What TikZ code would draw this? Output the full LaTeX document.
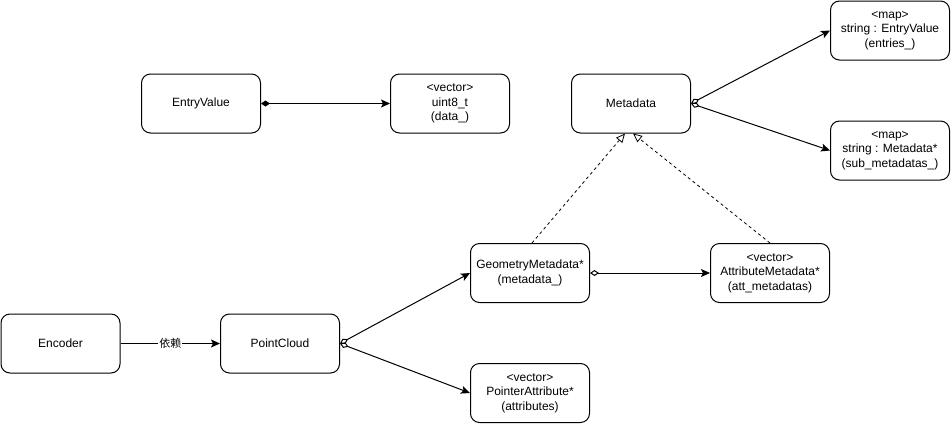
\documentclass[tikz,border=0pt]{standalone}
\usepackage{fontspec}
\setmainfont{Liberation Sans}
\newfontfamily\cjk{Noto Sans CJK SC}
\usetikzlibrary{arrows.meta}
\begin{document}
\begin{tikzpicture}[x=1pt,y=-1pt,
  box/.style={draw, line width=1pt, rounded corners=9pt, minimum width=119pt,
    minimum height=59pt, align=center, inner sep=2pt,
    font=\fontsize{12}{14.5}\selectfont},
  link/.style={line width=1pt, -{Stealth[length=9pt,width=8pt,inset=2pt]}},
  aggr/.style={link, {Diamond[open,length=9pt,width=6pt]}-{Stealth[length=9pt,width=8pt,inset=2pt]}},
  comp/.style={link, {Diamond[length=9pt,width=6pt]}-{Stealth[length=9pt,width=8pt,inset=2pt]}},
  impl/.style={line width=0.8pt, dash pattern=on 3pt off 3pt, -{Triangle[open,length=9pt,width=8pt]}}]
\useasboundingbox (0,0) rectangle (951,424);

% class boxes
\node[box] (entry) at (201,103.5) {EntryValue};
\node[box] (data) at (450,103.5) {<vector>\\uint8\_t\\(data\_)};
\node[box] (meta) at (631,103.5) {Metadata};
\node[box] (entries) at (890,30.5) {<map>\\string : EntryValue\\(entries\_)};
\node[box] (sub) at (890,150.5) {<map>\\string : Metadata*\\(sub\_metadatas\_)};
\node[box] (geo) at (530,273) {GeometryMetadata*\\(metadata\_)};
\node[box] (att) at (770,273) {<vector>\\AttributeMetadata*\\(att\_metadatas)};
\node[box] (enc) at (60.5,343.5) {Encoder};
\node[box] (pc) at (280,343.5) {PointCloud};
\node[box] (pattr) at (530,393) {<vector>\\PointerAttribute*\\(attributes)};

% associations
\draw[comp] (entry.east) -- (data.west);
\draw[aggr] (meta.east) -- (entries.west);
\draw[aggr] (meta.east) -- (sub.west);
\draw[aggr] (geo.east) -- (att.west);
\draw[aggr] (pc.east) -- (geo.west);
\draw[aggr] (pc.east) -- (pattr.west);

% realisations
\draw[impl] ([xshift=2pt]geo.north) -- ([xshift=-6pt]meta.south);
\draw[impl] (att.north) -- ([xshift=2pt]meta.south);

% dependency
\draw[link] (enc.east) -- node[fill=white, inner sep=1pt, font=\cjk\fontsize{11}{13}\selectfont] (deplabel) {依赖} (pc.west);
\end{tikzpicture}
\end{document}
